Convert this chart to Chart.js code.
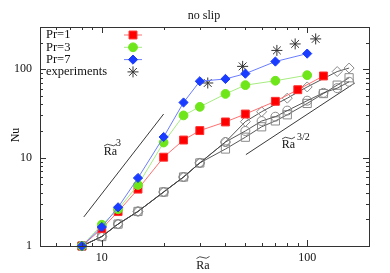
<!DOCTYPE html>
<html><head><meta charset="utf-8">
<style>html,body{margin:0;padding:0;background:#fff;}#wrap{width:390px;height:273px;}</style>
<script src="https://cdn.jsdelivr.net/npm/chart.js@4"></script>
</head><body><div id="wrap"><canvas id="c" width="390" height="273"></canvas></div>
<script>
// ---- data ----
const pr1X = [8, 10, 12, 15, 20, 25, 30, 40, 50, 70, 90, 120];
const pr1Y = [1, 1.57, 2.45, 4.4, 10.1, 15.8, 20.2, 25.3, 31.1, 43.3, 58.6, 83.8];
const pr3X = [8, 10, 12, 15, 20, 25, 30, 40, 50, 70, 100];
const pr3Y = [1, 1.74, 2.6, 4.9, 14.8, 30, 37.5, 52.5, 66, 74, 85.5];
const pr7X = [8, 10, 12, 15, 20, 25, 30, 40, 50, 70, 100];
const pr7Y = [1, 1.64, 2.74, 5.88, 17.1, 42, 73, 77.5, 89, 122, 150];
const expX = [32.8, 48.5, 71.2, 87.4, 110];
const expY = [69.8, 107.6, 163, 193, 220];
const grayDiaX = [8, 10, 12, 15, 20, 25, 30, 40, 50, 60, 80, 100, 140, 160];
const grayDiaY = [1, 1.28, 1.77, 2.46, 4.08, 6.03, 8.7, 15, 25.5, 33, 47, 63, 94, 103];
const grayCirX = [8, 10, 12, 15, 20, 25, 30, 40, 50, 60, 70, 80, 100, 120, 140, 160];
const grayCirY = [1, 1.28, 1.77, 2.46, 4.08, 6.03, 8.7, 15, 20, 25.9, 29, 34, 44, 54, 61, 72];
const graySqX = [8, 10, 12, 15, 20, 25, 30, 40, 50, 60, 70, 80, 100, 120, 140, 160];
const graySqY = [1, 1.28, 1.77, 2.46, 4.08, 6.03, 8.7, 12.5, 17, 22.3, 26, 30.5, 41, 53, 66, 80];
const guide3X = [8.17, 20];
const guide3Y = [2.13, 31.1];
const guide32X = [50.3, 170.6];
const guide32Y = [10.8, 69.8];
const xTickValues = [5, 6, 7, 8, 9, 10, 20, 30, 40, 50, 60, 70, 80, 90, 100, 200];
const xTickLabels = [10, 100];
const yTickValues = [1, 2, 3, 4, 5, 6, 7, 8, 9, 10, 20, 30, 40, 50, 60, 70, 80, 90, 100, 200, 300];
const yTickLabels = [1, 10, 100];
const legendLabels = ['Pr=1', 'Pr=3', 'Pr=7', 'experiments'];

const pts = (xs, ys) => xs.map((x, i) => ({x: x, y: ys[i]}));
const FONT = '"Liberation Serif", "Times New Roman", serif';

const datasets = [
  {label: 'Pr=7', data: pts(pr7X, pr7Y), borderColor: '#6a7dff', borderWidth: 1, pointStyle: 'rectRot', pointRadius: 4.6,
   pointBackgroundColor: '#1a3cff', pointBorderColor: '#1a3cff', pointBorderWidth: 1, order: 1},
  {label: 'Pr=3', data: pts(pr3X, pr3Y), borderColor: '#a6ec80', borderWidth: 1, pointStyle: 'circle', pointRadius: 4.4,
   pointBackgroundColor: '#6ee61a', pointBorderColor: '#6ee61a', pointBorderWidth: 1, order: 2},
  {label: 'Pr=1', data: pts(pr1X, pr1Y), borderColor: '#ff7070', borderWidth: 1, pointStyle: 'rect', pointRadius: 5.6,
   pointBackgroundColor: '#ff0000', pointBorderColor: '#ff3030', pointBorderWidth: 1, order: 3},
  {label: 'experiments', data: pts(expX, expY), showLine: false, pointStyle: 'star', pointRadius: 5.5,
   pointBorderColor: '#333333', pointBackgroundColor: '#333333', pointBorderWidth: 1, order: 4},
  {label: 'g1', data: pts(grayDiaX, grayDiaY), borderColor: '#444', borderWidth: 0.9, pointStyle: 'rectRot', pointRadius: 5,
   pointBackgroundColor: 'rgba(0,0,0,0)', pointBorderColor: '#8a8a8a', pointBorderWidth: 1, order: 5},
  {label: 'g2', data: pts(grayCirX, grayCirY), borderColor: '#444', borderWidth: 0.9, pointStyle: 'circle', pointRadius: 4.5,
   pointBackgroundColor: 'rgba(0,0,0,0)', pointBorderColor: '#8a8a8a', pointBorderWidth: 1, order: 6},
  {label: 'g3', data: pts(graySqX, graySqY), borderColor: '#444', borderWidth: 0.9, pointStyle: 'rect', pointRadius: 5.8,
   pointBackgroundColor: 'rgba(0,0,0,0)', pointBorderColor: '#8a8a8a', pointBorderWidth: 1, order: 7},
  {label: 'guide3', data: pts(guide3X, guide3Y), borderColor: '#222', borderWidth: 0.9, pointRadius: 0, order: 8},
  {label: 'guide32', data: pts(guide32X, guide32Y), borderColor: '#222', borderWidth: 0.9, pointRadius: 0, order: 9}
];
datasets.forEach(d => { d.clip = false; });

function tilde(ctx, cx, cy, w) {
  ctx.save();
  ctx.beginPath();
  ctx.lineWidth = 0.8;
  ctx.strokeStyle = '#222';
  const x0 = cx - w / 2;
  ctx.moveTo(x0, cy + 1);
  ctx.quadraticCurveTo(x0 + w * 0.25, cy - 2, x0 + w * 0.5, cy);
  ctx.quadraticCurveTo(x0 + w * 0.75, cy + 2, x0 + w, cy - 1);
  ctx.stroke();
  ctx.restore();
}

const decor = {
  id: 'decor',
  afterDraw(chart) {
    const ctx = chart.ctx, a = chart.chartArea;
    const xs = chart.scales.x, ys = chart.scales.y;
    ctx.save();
    ctx.strokeStyle = '#333';
    ctx.lineWidth = 1;
    xTickValues.forEach(v => {
      const px = Math.round(xs.getPixelForValue(v)) + 0.5;
      if (px <= a.left + 1 || px >= a.right - 1) return;
      const len = xTickLabels.includes(v) ? 6 : 3;
      ctx.beginPath();
      ctx.moveTo(px, a.bottom); ctx.lineTo(px, a.bottom - len);
      ctx.moveTo(px, a.top); ctx.lineTo(px, a.top + len);
      ctx.stroke();
    });
    yTickValues.forEach(v => {
      const py = Math.round(ys.getPixelForValue(v)) + 0.5;
      if (py <= a.top + 1 || py >= a.bottom - 1) return;
      const len = yTickLabels.includes(v) ? 6 : 3;
      ctx.beginPath();
      ctx.moveTo(a.left, py); ctx.lineTo(a.left + len, py);
      ctx.moveTo(a.right, py); ctx.lineTo(a.right - len, py);
      ctx.stroke();
    });
    ctx.strokeRect(Math.round(a.left) + 0.5, Math.round(a.top) + 0.5, Math.round(a.right - a.left), Math.round(a.bottom - a.top));
    ctx.fillStyle = '#111';
    ctx.font = '12px ' + FONT;
    ctx.textAlign = 'center';
    ctx.textBaseline = 'middle';
    ctx.fillText('no slip', 204, 16);
    ctx.fillText('Ra', 203, 266);
    tilde(ctx, 203, 257.5, 13);
    ctx.save();
    ctx.translate(16, 135);
    ctx.rotate(-Math.PI / 2);
    ctx.fillText('Nu', 0, 0);
    ctx.restore();
    ctx.fillText('Ra', 110.5, 152);
    tilde(ctx, 110.5, 145, 13);
    ctx.font = '10px ' + FONT;
    ctx.textAlign = 'left';
    ctx.fillText('3', 116, 143);
    ctx.font = '12px ' + FONT;
    ctx.textAlign = 'center';
    ctx.fillText('Ra', 288.5, 145);
    tilde(ctx, 288.5, 138, 13);
    ctx.font = '10px ' + FONT;
    ctx.textAlign = 'left';
    ctx.fillText('3/2', 297, 137);
    ctx.font = '12.5px ' + FONT;
    ctx.textAlign = 'left';
    legendLabels.forEach((lab, i) => {
      const ds = chart.data.datasets.find(d => d.label === lab);
      const y = 35 + i * 12.3;
      ctx.fillStyle = '#111';
      ctx.fillText(lab, 46, y);
      if (ds.showLine !== false) {
        ctx.strokeStyle = ds.borderColor;
        ctx.lineWidth = 1;
        ctx.beginPath(); ctx.moveTo(124, y); ctx.lineTo(142, y); ctx.stroke();
      }
      ctx.fillStyle = ds.pointBackgroundColor;
      ctx.strokeStyle = ds.pointBorderColor;
      ctx.lineWidth = ds.pointBorderWidth;
      Chart.helpers.drawPoint(ctx, {pointStyle: ds.pointStyle, radius: ds.pointRadius, rotation: 0, borderWidth: ds.pointBorderWidth}, 133, y);
    });
    ctx.restore();
  }
};

new Chart(document.getElementById('c'), {
  type: 'line',
  data: {datasets: datasets},
  options: {
    responsive: false,
    animation: false,
    devicePixelRatio: 1,
    layout: {padding: {top: 27, right: 21, left: 0, bottom: 0}},
    plugins: {legend: {display: false}, tooltip: {enabled: false}, title: {display: false}},
    elements: {line: {tension: 0}},
    scales: {
      x: {
        type: 'logarithmic', min: 5, max: 200, position: 'bottom',
        grid: {display: false, drawTicks: false}, border: {display: false},
        afterBuildTicks: s => { s.ticks = xTickValues.map(v => ({value: v})); },
        afterFit: s => { s.height = 27; },
        ticks: {autoSkip: false, maxRotation: 0, padding: 5, color: '#111', font: {family: FONT, size: 12},
          callback: v => xTickLabels.includes(v) ? String(v) : ''}
      },
      y: {
        type: 'logarithmic', min: 1, max: 300, position: 'left',
        grid: {display: false, drawTicks: false}, border: {display: false},
        afterBuildTicks: s => { s.ticks = yTickValues.map(v => ({value: v})); },
        afterFit: s => { s.width = 40; },
        ticks: {autoSkip: false, padding: 8, color: '#111', font: {family: FONT, size: 12},
          callback: v => yTickLabels.includes(v) ? String(v) : ''}
      }
    }
  },
  plugins: [decor]
});
</script>
</body></html>
